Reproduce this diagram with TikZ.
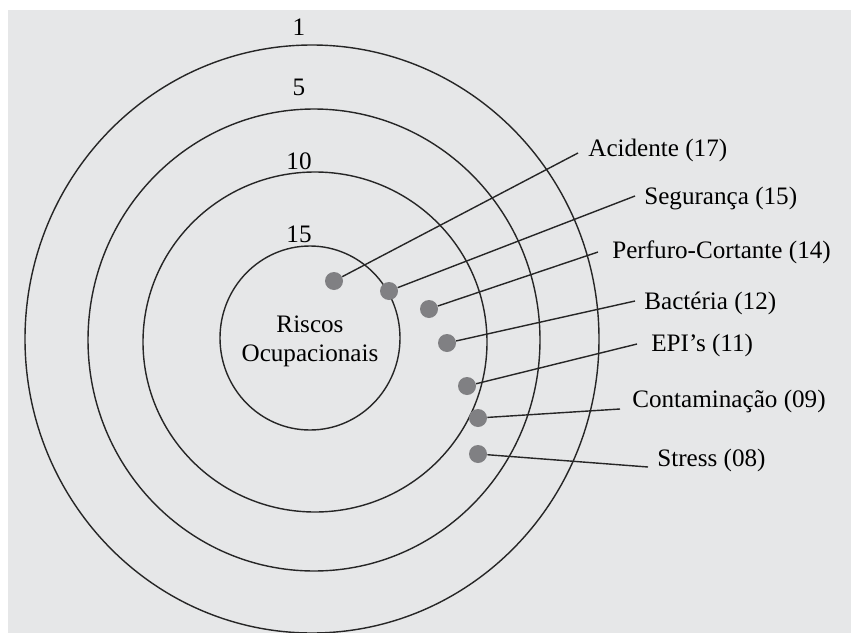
\documentclass[tikz,border=0pt]{standalone}
\usepackage{fontspec}
\setmainfont{Liberation Serif}
\definecolor{bggray}{HTML}{E6E7E8}
\definecolor{dotgray}{HTML}{808083}

\begin{document}
\begin{tikzpicture}[x=0.2mm, y=0.2mm]
\tikzstyle{every node}+=[inner sep=0pt, font=\fontsize{14.3}{16.4}\selectfont]
\tikzstyle{dot}=[circle, fill=dotgray, minimum size=0.36cm]
\tikzstyle{ring}=[black!85, line width=0.8pt]
\tikzstyle{lbl}=[anchor=west]
\useasboundingbox (0,0) rectangle (851,-633);
\fill [bggray] (8,-10) rectangle (851,-633);
% aneis
\draw [ring] (312,-339) ellipse (287 and 294);
\draw [ring] (314,-340) ellipse (226 and 231);
\draw [ring] (315,-342) ellipse (172 and 170);
\draw [ring] (310,-338) ellipse (90 and 92);
\node (r1) at (299,-27) {1};
\node (r5) at (299,-87) {5};
\node (r10) at (299,-161) {10};
\node (r15) at (299,-234) {15};
\node [align=center] (centro) at (310,-341) {Riscos\\Ocupacionais};
% pontos
\node [dot] (d1) at (334,-281) {};
\node [dot] (d2) at (389,-291) {};
\node [dot] (d3) at (429,-309) {};
\node [dot] (d4) at (447,-343) {};
\node [dot] (d5) at (467,-386) {};
\node [dot] (d6) at (478,-418) {};
\node [dot] (d7) at (478,-454) {};
% rotulos
\node [lbl] (l1) at (588,-150) {Acidente (17)};
\node [lbl] (l2) at (644,-198) {Segurança (15)};
\node [lbl] (l3) at (612,-252) {Perfuro-Cortante (14)};
\node [lbl] (l4) at (644,-303) {Bactéria (12)};
\node [lbl] (l5) at (651,-345) {EPI’s (11)};
\node [lbl] (l6) at (632,-401) {Contaminação (09)};
\node [lbl] (l7) at (657,-460) {Stress (08)};
\coordinate (t1) at (578,-153);
\coordinate (t2) at (635,-196);
\coordinate (t3) at (598,-252);
\coordinate (t4) at (635,-301);
\coordinate (t5) at (637,-344);
\coordinate (t6) at (620,-409);
\coordinate (t7) at (648,-467);
\draw [ring] (d1) -- (t1);
\draw [ring] (d2) -- (t2);
\draw [ring] (d3) -- (t3);
\draw [ring] (d4) -- (t4);
\draw [ring] (d5) -- (t5);
\draw [ring] (d6) -- (t6);
\draw [ring] (d7) -- (t7);
\end{tikzpicture}
\end{document}
